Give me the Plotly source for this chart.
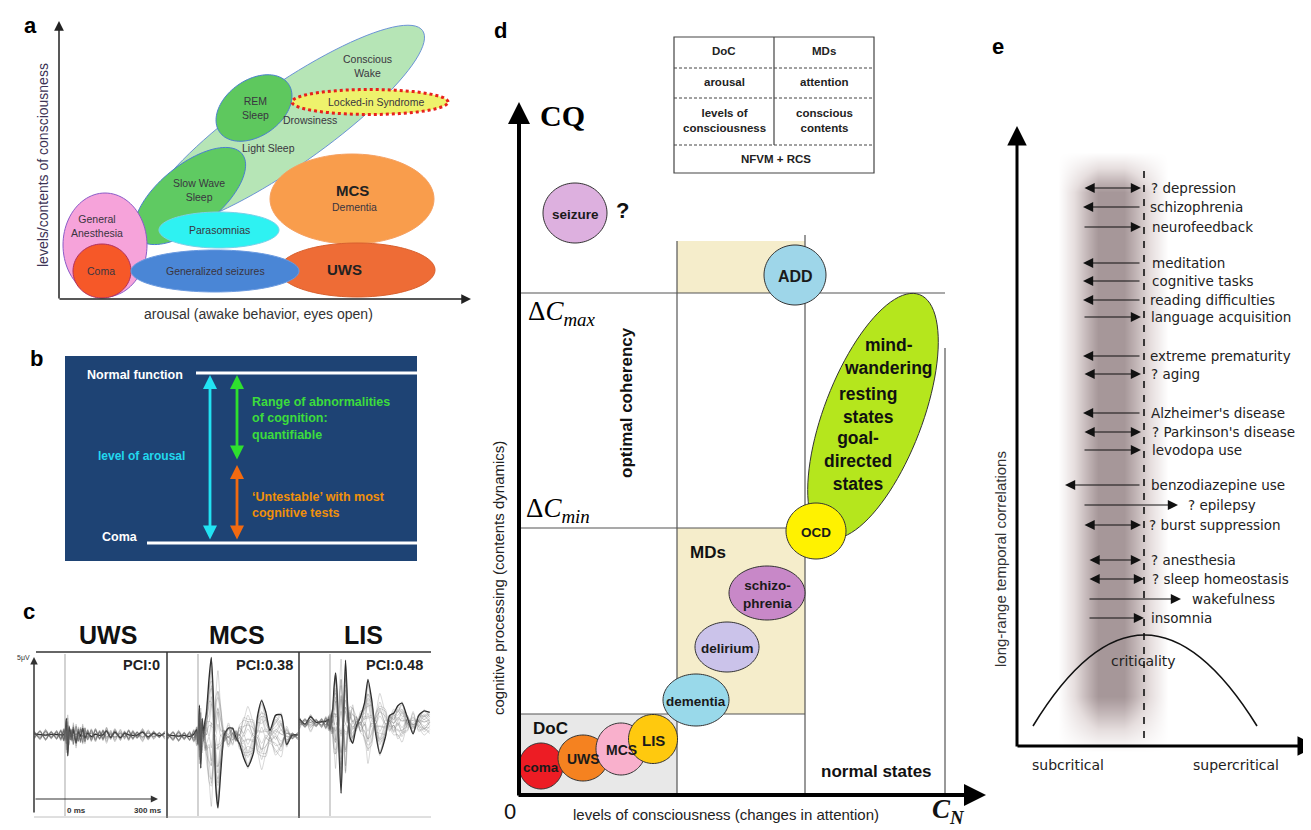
import math
import plotly.graph_objects as go

W, H = 1311, 830
SANS = "Liberation Sans, Arial, sans-serif"
SERIF = "Liberation Serif, Times New Roman, serif"
DJV = "DejaVu Sans, sans-serif"

# ---------------- Panel a : states (label, centre x, centre y, semi-axes, tilt, fill, edge, dash)
A_NAMES = ["Conscious Wake", "REM Sleep", "Slow Wave Sleep", "Locked-in Syndrome", "MCS",
           "UWS", "General Anesthesia", "Coma", "Parasomnias", "Generalized seizures"]
A_CX = [277, 246, 182, 362, 344, 349, 97, 94, 211, 207]
A_CY = [119, 100, 188, 94, 191, 262, 237, 263, 222, 263]
A_RA = [168, 42, 67, 78, 82, 78, 42, 29, 60, 84]
A_RB = [40, 28, 31, 12.5, 45, 27, 52, 27, 18, 21]
A_TILT = [35, 35, 39, 0, 0, 0, 0, 0, 0, 0]
A_FILL = ["#b6e5b6", "#5ec85e", "#5fca62", "#eef26c", "#f99d4c", "#ee6c36",
          "#f6a3da", "#f65828", "#2ef2f2", "#4a86d6"]
A_EDGE = ["#6b93d6", "#4a7fd0", "#4a7fd0", "#e8211c", "#f6a060", "#d8602e",
          "#8a5cc8", "#b03060", "#7ad0e8", "#6a9ae0"]
A_TEXT = ["Conscious<br>Wake", "REM<br>Sleep", "Slow Wave<br>Sleep", "Locked-in Syndrome",
          "Drowsiness", "Light Sleep", "Dementia", "General<br>Anesthesia", "Coma",
          "Parasomnias", "Generalized seizures"]
A_TX = [359, 247, 191, 368, 302, 260, 346, 89, 93, 211, 207]
A_TY = [58, 100, 182, 94, 112, 140, 199, 218, 263, 222, 263]

# ---------------- Panel c : evoked potentials (ms after stimulus, microvolts)
C_MS = [-110, -90, -70, -50, -30, -15, -5, 0, 5, 10, 15, 20, 25, 30, 40, 48, 56, 64, 72, 82,
        95, 110, 125, 137, 150, 165, 180, 200, 215, 230, 245, 260, 280, 300, 320, 340, 360]
C_UWS = [0, 0.1, -0.1, 0.1, -0.05, 0.1, -0.1, 0.2, 0.9, -1.2, 0.4, 0.2, -0.2, 0.5, -0.6, 0.3,
         -0.2, 0.5, -0.3, 0.2, -0.2, 0.15, -0.1, 0.1, 0.15, -0.1, 0.1, -0.1, 0.05, 0.1, -0.1,
         0.05, 0.1, -0.05, 0.05, 0, 0.05]
C_MCS = [0, 0.1, -0.1, 0.1, -0.1, 0.2, 0.3, -0.4, 1.8, -1.9, 1.0, 0.2, 0.8, 1.5, 3.5, 5.0,
         2.0, -3.0, -4.6, -2.2, 0.0, 0.6, 0.4, 0.0, -0.6, -1.3, -2.0, -1.0, 1.2, 2.3, 1.4, 0.4,
         1.2, 1.4, -0.6, 0.1, 0]
C_LIS = [0.2, 0, 0.3, 0.1, 0, 0.2, 0.1, -0.3, 0.3, 1.0, 2.2, 3.2, 2.0, -0.5, -4.5, 0.0, 3.8,
         1.0, -1.0, -1.2, -0.3, 0.5, 1.2, 2.8, 1.4, -0.6, -2.0, -0.8, 0.4, 0.7, 1.0, 1.3, 0.2,
         -0.6, 0.4, 0.8, 0.6]
C_RIPPLE = [0.2, -0.25, 0.3, -0.2, 0.25, -0.3, 0.35, -0.3, 0.4, -0.35, 0.3, -0.25, 0.3, -0.4,
            0.35, -0.3, 0.4, -0.3, 0.35, -0.25, 0.3, -0.35, 0.25, -0.3, 0.35, -0.2, 0.3, -0.25,
            0.2, -0.3, 0.25, -0.2, 0.3, -0.25, 0.2, -0.15, 0.2]
C_GAINS = [1.0, 0.9, 0.75, 0.6, 0.5, 0.35, 0.2, 0.1, -0.1, -0.25, -0.4, -0.55, -0.7, -0.85,
           0.45, 0.65, -0.3, 0.8, 0.15, -0.6]
C_RIPW = [0.3, -0.8, 1.0, -0.5, 1.2, -0.9, 0.6, -1.1, 0.8, 1.0, -0.4, 0.7, -1.2, 0.5, -0.7,
          0.9, 1.1, -0.6, 0.4, -1.0]
C_TITLES = ["UWS", "MCS", "LIS"]
C_PCI = ["PCI:0", "PCI:0.38", "PCI:0.48"]

# ---------------- Panel d : states
D_NAMES = ["seizure", "ADD", "OCD", "schizo-<br>phrenia", "delirium", "dementia",
           "coma", "UWS", "MCS", "LIS"]
D_CX = [567, 787, 808, 759, 719, 688, 533, 575, 613, 645]
D_CY = [205, 267, 523, 585, 639, 692, 758, 750, 741, 731]
D_RA = [32, 31, 30, 38, 32, 33, 22, 25, 25, 24.5]
D_RB = [30, 30, 28, 27, 25, 26, 23, 23, 26, 24.5]
D_FILL = ["#ddb0df", "#9ed6e9", "#fff200", "#c888c8", "#cbc3ea", "#99d9ea",
          "#ed1c24", "#f58220", "#f9b0cc", "#ffc90e"]
D_TSIZE = [13.5, 16, 13.5, 13.5, 13.5, 13.5, 13.5, 14, 14, 15]
D_TABLE = [["DoC", "MDs"], ["arousal", "attention"],
           ["levels of<br>consciousness", "conscious<br>contents"]]

# ---------------- Panel e : conditions relative to criticality
E_LABELS = ["? depression", "schizophrenia", "neurofeedback", "meditation", "cognitive tasks",
            "reading difficulties", "language acquisition", "extreme prematurity", "? aging",
            "Alzheimer's disease", "? Parkinson's disease", "levodopa use", "benzodiazepine use",
            "? epilepsy", "? burst suppression", "? anesthesia", "? sleep homeostasis",
            "wakefulness", "insomnia"]
E_DIR = ["both", "left", "right", "left", "left", "left", "right", "left", "both", "left",
         "both", "right", "left", "right", "both", "both", "both", "right", "right"]
E_Y = [180, 199, 219, 255, 273, 292, 309, 348, 366, 405, 424, 442, 477, 497, 517, 552, 571,
       591, 610]
E_XA = [1075, 1133, 1075, 1133, 1133, 1133, 1075, 1133, 1075, 1133, 1075, 1075, 1133, 1075,
        1075, 1080, 1080, 1080, 1080]
E_XB = [1133, 1075, 1133, 1075, 1075, 1075, 1133, 1075, 1133, 1075, 1133, 1133, 1057, 1170,
        1133, 1133, 1136, 1173, 1136]
E_TX = [1141, 1140, 1142, 1142, 1142, 1140, 1141, 1140, 1141, 1141, 1142, 1142, 1141, 1178,
        1139, 1141, 1142, 1182, 1141]

fig = go.Figure()
shapes = []
ann = []


def ellipse_path(cx, cy, a, b, ang, n=96):
    t = math.radians(ang)
    pts = []
    for i in range(n):
        th = 2 * math.pi * i / n
        x = cx + a * math.cos(th) * math.cos(t) - b * math.sin(th) * math.sin(t)
        y = cy - (a * math.cos(th) * math.sin(t) + b * math.sin(th) * math.cos(t))
        pts.append(f"{x:.2f},{y:.2f}")
    return "M " + " L ".join(pts) + " Z"


def ell(cx, cy, a, b, ang, fill, edge, width=1.0, dash="solid", layer="above"):
    shapes.append(dict(type="path", path=ellipse_path(cx, cy, a, b, ang), fillcolor=fill,
                       line=dict(color=edge, width=width, dash=dash), layer=layer,
                       xref="x", yref="y"))


def line(x0, y0, x1, y1, color="#444", width=1.0, dash="solid", layer="above"):
    shapes.append(dict(type="line", x0=x0, y0=y0, x1=x1, y1=y1, xref="x", yref="y",
                       line=dict(color=color, width=width, dash=dash), layer=layer))


def rect(x0, y0, x1, y1, fill, edge="rgba(0,0,0,0)", width=0, layer="below"):
    shapes.append(dict(type="rect", x0=x0, y0=y0, x1=x1, y1=y1, xref="x", yref="y",
                       fillcolor=fill, line=dict(color=edge, width=width), layer=layer))


def txt(x, y, s, size, color="#222", bold=False, family=SANS, xanchor="center",
        angle=0, align="center", yanchor="middle"):
    if bold:
        s = "<br>".join("<b>" + p + "</b>" for p in s.split("<br>"))
    ann.append(dict(x=x, y=y, xref="x", yref="y", text=s, showarrow=False,
                    font=dict(size=size, color=color, family=family), xanchor=xanchor,
                    yanchor=yanchor, textangle=angle, align=align))


def arrow(x, y, ax, ay, color="#000", width=1.5, head=2, size=1.0, both=False):
    d = dict(x=x, y=y, ax=ax, ay=ay, xref="x", yref="y", axref="x", ayref="y",
             showarrow=True, text="", arrowhead=head, arrowsize=size, arrowwidth=width,
             arrowcolor=color, standoff=0, startstandoff=0)
    if both:
        d.update(arrowside="end+start", startarrowhead=head, startarrowsize=size)
    ann.append(d)


# ======================= Panel a =======================
txt(22, 17, "a", 22, "#000", bold=True)
for i in range(len(A_NAMES)):
    ell(A_CX[i], A_CY[i], A_RA[i], A_RB[i], A_TILT[i], A_FILL[i], A_EDGE[i],
        width=3 if A_NAMES[i] == "Locked-in Syndrome" else 1.0,
        dash="dot" if A_NAMES[i] == "Locked-in Syndrome" else "solid")
for i in range(len(A_TEXT)):
    txt(A_TX[i], A_TY[i], A_TEXT[i], 10.5, "#3a3540")
txt(344, 182, "MCS", 15, "#222", bold=True)
txt(336, 261, "UWS", 15, "#222", bold=True)
arrow(51, 13, 51, 292, "#222", 1.5, 2, 1.3)
arrow(463, 291, 50, 291, "#222", 1.5, 2, 1.3)
txt(35, 157, "levels/contents of consciousness", 14, "#3d3355", angle=-90)
txt(250, 306, "arousal (awake behavior, eyes open)", 14, "#333")

# ======================= Panel b =======================
txt(28, 350, "b", 22, "#000", bold=True)
rect(57, 348, 409, 553, "#1e4374", layer="below")
line(188, 365, 409, 365, "#ffffff", 3)
line(139, 535, 409, 535, "#ffffff", 3)
arrow(202, 367, 202, 533, "#22e3f3", 2.8, 2, 1.0, both=True)
arrow(229, 367, 229, 453, "#2ee02e", 2.8, 2, 1.0, both=True)
arrow(229, 457, 229, 533, "#f26a10", 2.8, 2, 1.0, both=True)
txt(127, 367, "Normal function", 12.5, "#ffffff", bold=True)
txt(112, 529, "Coma", 12.5, "#ffffff", bold=True)
txt(133, 448, "level of arousal", 12, "#22d8ee", bold=True)
txt(242, 410, "Range of abnormalities<br>of cognition:<br>quantifiable", 12.5, "#3cdc3c",
    bold=True, xanchor="left", align="left")
txt(242, 497, "\u2018Untestable\u2019 with most<br>cognitive tests", 12.5, "#f0900a",
    bold=True, xanchor="left", align="left")

# ======================= Panel c =======================
txt(21, 603, "c", 22, "#000", bold=True)
C_ONSET = [57, 190, 322]
C_BASE = [727, 728, 715]
C_SERIES = [C_UWS, C_MCS, C_LIS]
PX_PER_MS = 0.277
PX_PER_UV = 16
for p in range(3):
    xs = [C_ONSET[p] + m * PX_PER_MS for m in C_MS]
    for k in range(len(C_GAINS)):
        ys = [C_BASE[p] - (C_GAINS[k] * v + C_RIPW[k] * r) * PX_PER_UV
              for v, r in zip(C_SERIES[p], C_RIPPLE)]
        dark = (k == 0)
        fig.add_trace(go.Scatter(x=xs, y=ys, mode="lines", hoverinfo="skip",
                                 line=dict(color="#2a2a2a" if dark else "rgba(90,90,90,0.27)",
                                           width=1.4 if dark else 0.9, shape="spline",
                                           smoothing=0.6)))
    line(C_ONSET[p], 646, C_ONSET[p], 808, "rgba(120,120,120,0.55)", 1.2)
line(28, 644, 423, 644, "#333", 1.5)
line(159, 644, 159, 810, "#333", 1.5)
line(291, 644, 291, 810, "#333", 1.5)
line(26, 809, 423, 809, "rgba(150,150,150,0.6)", 1)
arrow(26, 649, 26, 806, "#333", 1.5, 2, 1.0)
arrow(150, 791, 26, 791, "#333", 1.2, 2, 1.2)
txt(15, 650, "5\u03bcV", 7, "#333")
txt(68, 802, "0 ms", 8, "#333", bold=True)
txt(140, 802, "300 ms", 8, "#333", bold=True)
for p, xc in enumerate([100, 229, 355]):
    txt(xc, 627, C_TITLES[p], 25, "#111", bold=True)
for p, xr in enumerate([154, 287, 417]):
    txt(xr, 657, C_PCI[p], 14.5, "#222", bold=True, xanchor="right")

# ======================= Panel d =======================
txt(492, 22, "d", 22, "#000", bold=True)
rect(669, 233, 797, 285, "#f5edcb")
rect(669, 520, 797, 706, "#f5edcb")
rect(511, 706, 669, 785, "#e8e8e8")
line(511, 285, 937, 285, "#555", 1.2, layer="below")
line(511, 520, 797, 520, "#555", 1.2, layer="below")
line(511, 706, 797, 706, "#555", 1.2, layer="below")
line(669, 233, 669, 785, "#555", 1.2, layer="below")
line(797, 227, 797, 785, "#555", 1.2, layer="below")
line(937, 340, 937, 785, "#555", 1.2, layer="below")
# table
rect(666, 29, 866, 165, "rgba(255,255,255,0)", "#444", 1.2, layer="above")
line(766, 29, 766, 137, "#444", 1.2)
for yy in [60, 90, 137]:
    line(666, yy, 866, yy, "#444", 1.0, dash="3px,2px")
for r, yy in enumerate([43, 74, 112]):
    txt(716, yy, D_TABLE[r][0], 11.5, "#222", bold=True)
    txt(816, yy, D_TABLE[r][1], 11.5, "#222", bold=True)
txt(768, 151, "NFVM + RCS", 11.5, "#222", bold=True)
# green ellipse
ell(865, 408, 130, 49, 69, "#b5e61d", "#333", 1.0)
for i in range(len(D_NAMES)):
    ell(D_CX[i], D_CY[i], D_RA[i], D_RB[i], 0, D_FILL[i], "#333", 1.0)
    txt(D_CX[i], D_CY[i] + 1, D_NAMES[i], D_TSIZE[i], "#1a1a1a", bold=True)
txt(614, 202, "?", 22, "#111", bold=True)
txt(880, 348, "mind-<br>wandering", 17.5, "#111", bold=True)
txt(860, 397, "resting<br>states", 17.5, "#111", bold=True)
txt(850, 453, "goal-<br>directed<br>states", 17.5, "#111", bold=True)
txt(700, 544, "MDs", 17, "#111", bold=True)
txt(542, 720, "DoC", 17, "#111", bold=True)
txt(868, 763, "normal states", 17, "#111", bold=True)
txt(618, 395, "optimal coherency", 17, "#111", bold=True, angle=-90)
arrow(511, 94, 511, 789, "#000", 4, 2, 1.1)
arrow(978, 787, 509, 787, "#000", 4, 2, 1.1)
txt(530, 107, "<b>CQ</b>", 30, "#000", family=SERIF, xanchor="left")
txt(518, 305, "\u0394<i>C</i><sub><i>max</i></sub>", 27, "#000", family=SERIF, xanchor="left")
txt(516, 502, "\u0394<i>C</i><sub><i>min</i></sub>", 27, "#000", family=SERIF, xanchor="left")
txt(502, 803, "0", 22, "#111")
txt(718, 806, "levels of consciousness (changes in attention)", 15, "#222")
txt(490, 570, "cognitive processing (contents dynamics)", 15, "#222", angle=-90)
txt(922, 803, "<b><i>C</i></b><sub><b><i>N</i></b></sub>", 27, "#111", family=SERIF,
    xanchor="left")

# ======================= Panel e =======================
txt(990, 38, "e", 22, "#000", bold=True)


def ramp(t):
    return max(0.0, min(1.0, t))


bx = list(range(1046, 1166, 2))
by = list(range(140, 746, 4))
bz = []
for yv in by:
    fy = ramp((yv - 144) / 40) * ramp((744 - yv) / 55)
    row = []
    for xv in bx:
        fx = ramp((xv - 1050) / 40) * ramp((1160 - xv) / 44)
        row.append(fx * fy)
    bz.append(row)
fig.add_trace(go.Heatmap(x=bx, y=by, z=bz, zmin=0, zmax=1, zsmooth="best", showscale=False,
                         hoverinfo="skip",
                         colorscale=[[0, "#ffffff"], [0.4, "#e6dede"], [0.75, "#c0b3b4"],
                                     [1, "#a69799"]]))
line(1136, 163, 1136, 738, "#111", 1.6, dash="7px,7px")
shapes.append(dict(type="path", path="M 1025,718 Q 1136,536 1249,718", xref="x", yref="y",
                   line=dict(color="#111", width=1.6), layer="above"))
for i in range(len(E_LABELS)):
    arrow(E_XB[i], E_Y[i], E_XA[i], E_Y[i], "#111", 1.2, 2, 1.7,
          both=(E_DIR[i] == "both"))
    txt(E_TX[i], E_Y[i], E_LABELS[i], 13.5, "#222", family=DJV, xanchor="left")
txt(1135, 653, "criticality", 14, "#222", family=DJV)
arrow(1009, 118, 1009, 740, "#000", 3, 2, 1.3)
arrow(1309, 738, 1008, 738, "#000", 3, 2, 1.3)
txt(1060, 757, "subcritical", 14, "#222", family=DJV)
txt(1228, 757, "supercritical", 14, "#222", family=DJV)
txt(992, 551, "long-range temporal correlations", 15, "#333", angle=-90)

fig.update_layout(width=W, height=H, margin=dict(l=0, r=0, t=0, b=0),
                  paper_bgcolor="white", plot_bgcolor="white", showlegend=False,
                  xaxis=dict(range=[0, W], visible=False, fixedrange=True),
                  yaxis=dict(range=[H, 0], visible=False, fixedrange=True),
                  shapes=shapes, annotations=ann)
fig.write_html("out.html")
